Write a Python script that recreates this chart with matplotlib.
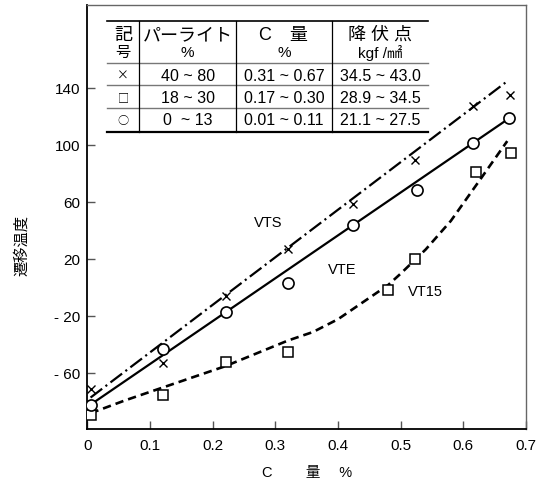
import matplotlib
matplotlib.use('Agg')
import matplotlib.pyplot as plt
from matplotlib.lines import Line2D

plt.rcParams['font.family'] = ['Liberation Sans', 'Noto Sans CJK JP']
plt.rcParams['lines.scale_dashes'] = False

# carbon content (%) vs transition temperature, three groups of steel
c_cross = [0.005, 0.12, 0.221, 0.32, 0.424, 0.522, 0.616, 0.674]
t_cross = [-71, -52.5, -6, 27.5, 59, 89.5, 127.5, 135.5]
c_square = [0.005, 0.12, 0.221, 0.32, 0.48, 0.522, 0.62, 0.676]
t_square = [-89.5, -75, -52, -45, -1.5, 20.5, 81, 94.5]
c_circle = [0.005, 0.12, 0.221, 0.32, 0.424, 0.526, 0.616, 0.673]
t_circle = [-82, -43, -17, 3.5, 44, 68.5, 102, 119]

# fitted curves
vts_c = [0.005, 0.667]
vts_t = [-77, 144]
vte_c = [0.005, 0.673]
vte_t = [-82, 119]
vt15_c = [0.005, 0.06, 0.12, 0.22, 0.32, 0.36, 0.40, 0.44, 0.48, 0.50, 0.54, 0.58, 0.63, 0.67]
vt15_t = [-88, -79, -70, -55, -37, -31, -22, -10, 2, 10, 27, 47, 78, 103]

xticks = [0, 0.1, 0.2, 0.3, 0.4, 0.5, 0.6, 0.7]
xtick_labels = ['0', '0.1', '0.2', '0.3', '0.4', '0.5', '0.6', '0.7']
yticks = [-60, -20, 20, 60, 100, 140]
ytick_labels = ['- 60', '- 20', '20', '60', '100', '140']

# legend table
head_top = ['記', 'パーライト', 'C　量', '降 伏 点']
head_bottom = ['号', '%', '%', 'kgf /㎟']
symbols = ['×', '□', '○']
pearlite = ['40 ~ 80', '18 ~ 30', '0  ~ 13']
carbon = ['0.31 ~ 0.67', '0.17 ~ 0.30', '0.01 ~ 0.11']
yield_pt = ['34.5 ~ 43.0', '28.9 ~ 34.5', '21.1 ~ 27.5']

fig = plt.figure(figsize=(5.44, 4.82), dpi=100)
ax = fig.add_axes([0.1607, 0.1093, 0.8063, 0.8803])

ax.plot(vts_c, vts_t, color='black', lw=1.6, dashes=(10.5, 3, 1.5, 3))
ax.plot(vte_c, vte_t, color='black', lw=1.6)
ax.plot(vt15_c, vt15_t, color='black', lw=1.9, dashes=(6, 3.6))

ax.plot(c_cross, t_cross, ls='none', marker='x', ms=5.5, mew=1.0, color='black', zorder=3)
ax.plot(c_square, t_square, ls='none', marker='s', ms=6.5, mew=1.1, mfc='white', mec='black', zorder=3)
ax.plot(c_circle, t_circle, ls='none', marker='o', ms=8, mew=1.2, mfc='white', mec='black', zorder=3)

narrow = ['Liberation Sans Narrow', 'Liberation Sans']
ax.text(0.288, 45.5, 'VTS', fontsize=10.5, family=narrow, ha='center', va='center')
ax.text(0.406, 12.5, 'VTE', fontsize=10.5, family=narrow, ha='center', va='center')
ax.text(0.539, -2.7, 'VT15', fontsize=10.5, family=narrow, ha='center', va='center')

ax.set_xlim(0, 0.7)
ax.set_ylim(-99.3, 198.5)
ax.set_xticks(xticks)
ax.set_xticklabels(xtick_labels, fontsize=11)
ax.set_yticks(yticks)
ax.set_yticklabels(ytick_labels, fontsize=11)
ax.tick_params(direction='in', length=6, width=1, color='#555555')
ax.tick_params(axis='x', pad=7)
ax.tick_params(axis='y', pad=5)
for side in ['left', 'bottom']:
    ax.spines[side].set_linewidth(1.3)
for side in ['top', 'right']:
    ax.spines[side].set_linewidth(1.0)
    ax.spines[side].set_color('#666666')

# table drawn in axes fractions
col_x = [0.044, 0.1183, 0.3388, 0.557, 0.7773]
row_y = [0.9623, 0.864, 0.8115, 0.758, 0.7014]
rule = dict(transform=ax.transAxes, clip_on=False)
ax.add_line(Line2D([col_x[0], col_x[-1]], [row_y[0]] * 2, color='black', lw=1.2, **rule))
for y in row_y[1:-1]:
    ax.add_line(Line2D([col_x[0], col_x[-1]], [y, y], color='#777777', lw=1.0, **rule))
ax.add_line(Line2D([col_x[0], col_x[-1]], [row_y[-1]] * 2, color='black', lw=1.6, **rule))
for x in col_x[1:-1]:
    ax.add_line(Line2D([x, x], [row_y[0], row_y[-1]], color='black', lw=0.9, **rule))

centers = [(a + b) / 2 for a, b in zip(col_x[:-1], col_x[1:])]
for i, cx in enumerate(centers):
    ax.text(cx, 0.928, head_top[i], transform=ax.transAxes, fontsize=13, ha='center', va='center')
    ax.text(cx, 0.888, head_bottom[i], transform=ax.transAxes, fontsize=11, ha='center', va='center')

row_centers = [0.8315, 0.7806, 0.7276]
symbol_sizes = [8.5, 8, 8]
for j, ry in enumerate(row_centers):
    ax.text(centers[0], ry, symbols[j], transform=ax.transAxes, fontsize=symbol_sizes[j],
            family=['Noto Sans CJK JP'], ha='center', va='center')
    ax.text(centers[1], ry, pearlite[j], transform=ax.transAxes, fontsize=11.5, ha='center', va='center')
    ax.text(centers[2], ry, carbon[j], transform=ax.transAxes, fontsize=11.5, ha='center', va='center')
    ax.text(centers[3], ry, yield_pt[j], transform=ax.transAxes, fontsize=11.5, ha='center', va='center')

fig.text(21.7 / 544, 1 - 246 / 482, '遷移温度', rotation=90, fontsize=11, ha='center', va='center')
fig.text(306.7 / 544, 1 - 472.7 / 482, 'C　　 量　 %', fontsize=10.5, ha='center', va='center')

fig.savefig('out.png', dpi=100)
